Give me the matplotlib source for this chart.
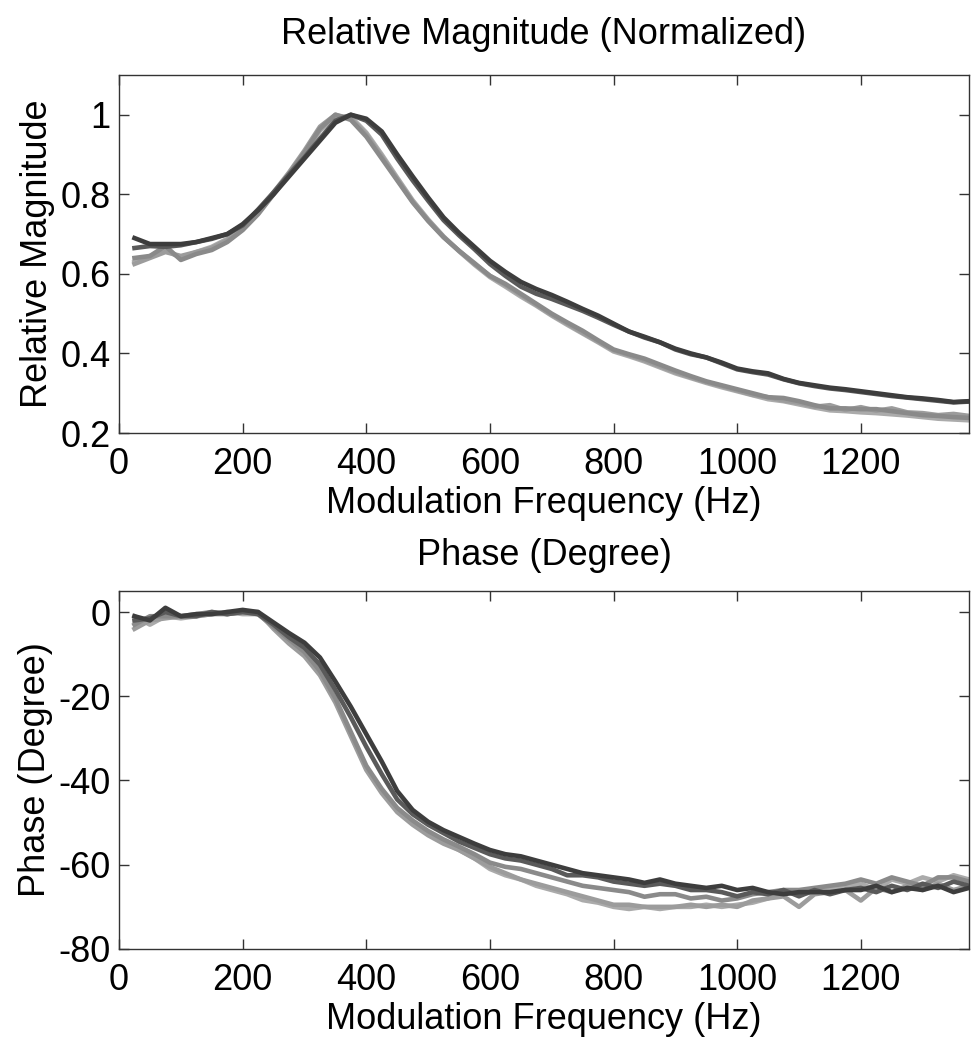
import numpy as np
import matplotlib
matplotlib.use("Agg")
import matplotlib.pyplot as plt

plt.rcParams['font.family'] = ['Liberation Sans', 'DejaVu Sans']
plt.rcParams['axes.unicode_minus'] = False

# modulation frequency grid (Hz)
freq = np.arange(25, 1376, 25)

# relative magnitude, one list per measurement
mag_a = [0.69, 0.675, 0.675, 0.675, 0.68, 0.69, 0.70, 0.725, 0.76, 0.80, 0.845, 0.89, 0.935, 0.98, 1.0,
         0.99, 0.958, 0.90, 0.845, 0.792, 0.742, 0.703, 0.668, 0.633, 0.605, 0.58, 0.562, 0.547, 0.53, 0.512,
         0.495, 0.475, 0.455, 0.442, 0.428, 0.412, 0.40, 0.39, 0.377, 0.362, 0.355, 0.35, 0.336, 0.326,
         0.32, 0.314, 0.31, 0.305, 0.30, 0.295, 0.29, 0.287, 0.283, 0.278, 0.28]
mag_b = [0.665, 0.67, 0.668, 0.672, 0.68, 0.688, 0.70, 0.722, 0.762, 0.805, 0.85, 0.893, 0.94, 0.985, 1.0,
         0.985, 0.95, 0.89, 0.835, 0.784, 0.735, 0.697, 0.662, 0.625, 0.595, 0.568, 0.55, 0.537, 0.522, 0.507,
         0.49, 0.472, 0.455, 0.44, 0.428, 0.41, 0.398, 0.39, 0.375, 0.36, 0.353, 0.347, 0.335, 0.325,
         0.318, 0.312, 0.308, 0.303, 0.298, 0.293, 0.289, 0.285, 0.281, 0.277, 0.279]
mag_c = [0.64, 0.645, 0.67, 0.635, 0.65, 0.66, 0.68, 0.71, 0.75, 0.80, 0.85, 0.905, 0.965, 1.0, 0.987,
         0.945, 0.89, 0.835, 0.78, 0.733, 0.692, 0.658, 0.627, 0.595, 0.575, 0.55, 0.525, 0.50, 0.478, 0.457,
         0.433, 0.41, 0.398, 0.387, 0.372, 0.357, 0.343, 0.33, 0.32, 0.31, 0.30, 0.29, 0.288, 0.28, 0.27,
         0.262, 0.262, 0.26, 0.26, 0.255, 0.25, 0.245, 0.243, 0.24, 0.238]
mag_d = [0.625, 0.64, 0.655, 0.645, 0.655, 0.665, 0.685, 0.715, 0.755, 0.805, 0.855, 0.91, 0.97, 1.0, 0.99,
         0.95, 0.895, 0.838, 0.782, 0.735, 0.693, 0.658, 0.625, 0.595, 0.572, 0.547, 0.522, 0.497, 0.475,
         0.452, 0.43, 0.408, 0.396, 0.383, 0.368, 0.353, 0.34, 0.328, 0.318, 0.307, 0.296, 0.29, 0.282,
         0.276, 0.266, 0.27, 0.258, 0.265, 0.256, 0.262, 0.252, 0.25, 0.245, 0.248, 0.243]
mag_e = [0.63, 0.645, 0.66, 0.64, 0.655, 0.668, 0.688, 0.712, 0.752, 0.802, 0.852, 0.905, 0.96, 0.995, 0.995,
         0.955, 0.90, 0.842, 0.785, 0.737, 0.694, 0.657, 0.623, 0.592, 0.568, 0.543, 0.52, 0.495, 0.472,
         0.45, 0.428, 0.405, 0.393, 0.38, 0.365, 0.35, 0.338, 0.326, 0.315, 0.305, 0.295, 0.285, 0.28,
         0.272, 0.264, 0.257, 0.255, 0.252, 0.25, 0.247, 0.244, 0.24, 0.236, 0.234, 0.232]

# phase in degrees
ph_a = [-1, -2, 1, -1, -0.5, -0.5, 0, 0.5, 0, -2.5, -5, -7.3, -10.8, -16.5, -22.5, -29, -35.5, -42.5, -47,
        -49.8, -51.8, -53.4, -55, -56.5, -57.5, -58, -59, -60, -61, -62, -62.5, -63, -63.5, -64.3, -63.5,
        -64.5, -65, -65.5, -65, -66, -65.5, -66.5, -67, -66.5, -66.5, -66.5, -66, -66, -65, -66.5, -65.5,
        -66, -65, -66.5, -65.5]
ph_b = [-2, -1.5, 0, -1, -1, 0, -0.5, 0, -0.5, -3, -6, -8.5, -12.5, -18.5, -25, -32, -38.5, -44.5, -48,
        -50.5, -52.5, -54.5, -56, -57.5, -58.5, -59, -60, -61, -62.5, -62.5, -63, -64, -64.5, -65, -64.5,
        -65, -66, -66, -66.5, -67.5, -66.5, -67, -66, -67.5, -66, -67, -66, -65.5, -66.5, -65, -66,
        -64.5, -65.5, -64, -65]
ph_c = [-3, -1, -1, -1, -0.5, 0, -0.5, 0, -0.5, -3.5, -6.5, -9.5, -14, -20.5, -28.5, -36.5, -42, -46.5,
        -49.5, -52, -54, -55.7, -57.5, -59.5, -60.5, -61, -62, -63, -64, -65, -65.5, -66, -66.5, -67.6,
        -67, -67, -68, -67.6, -68.5, -68, -67, -66.5, -66, -66, -65.5, -65, -64.5, -63.5, -64.5, -63, -64,
        -65, -63, -63, -64]
ph_d = [-4, -2, -1.5, -1, -1, -0.5, -0.5, 0, 0, -4, -7.5, -10.5, -15, -21.5, -29.5, -37.5, -43, -47.5,
        -50.5, -53, -55, -56.5, -58.5, -60.5, -62, -63.5, -64.5, -65.5, -66.5, -67.5, -68.5, -69.5,
        -69.5, -70, -70, -70, -69.5, -70, -69.5, -70, -68.5, -68, -67.5, -70, -67, -66.5, -66, -68.5,
        -65.5, -66.5, -65, -66, -64.5, -66, -65]
ph_e = [-1, -3, -1, -1.5, -1, -0.5, 0, -0.5, -0.5, -3.5, -7, -10, -14.5, -21, -29, -37, -42.5, -47,
        -50, -52.5, -54.5, -56.5, -58.5, -61, -62.5, -63.5, -65, -66, -67, -68.4, -69, -70, -70.5, -70,
        -70.5, -70, -70, -69.5, -70, -69.5, -69, -68, -66.5, -67, -66.5, -65.5, -65, -64.5, -66, -63.5,
        -64.5, -63, -64, -62.5, -63.5]

colors = ['#3d3d3d', '#5a5a5a', '#8a8a8a', '#9c9c9c', '#ababab']

fig = plt.figure(figsize=(9.79, 10.5), dpi=100)
ax1 = fig.add_axes([0.1216, 0.5876, 0.8682, 0.341])
ax2 = fig.add_axes([0.1216, 0.0962, 0.8682, 0.341])

for y, c in zip([mag_e, mag_d, mag_c, mag_b, mag_a], colors[::-1]):
    ax1.plot(freq, y, color=c, lw=3.3)
for y, c in zip([ph_e, ph_d, ph_c, ph_b, ph_a], colors[::-1]):
    ax2.plot(freq, y, color=c, lw=3.3)

fs = 26

ax1.set_xlim(0, 1375)
ax1.set_ylim(0.2, 1.1)
ax1.set_yticks([0.2, 0.4, 0.6, 0.8, 1])
ax1.set_yticklabels(['0.2', '0.4', '0.6', '0.8', '1'])
ax1.set_title('Relative Magnitude (Normalized)', fontsize=fs, pad=22)
ax1.set_ylabel('Relative Magnitude', fontsize=fs, labelpad=4)

ax2.set_xlim(0, 1375)
ax2.set_ylim(-80, 5)
ax2.set_yticks([-80, -60, -40, -20, 0])
ax2.set_title('Phase (Degree)', fontsize=fs, pad=19)
ax2.set_ylabel('Phase (Degree)', fontsize=fs, labelpad=4)

for ax in (ax1, ax2):
    ax.set_xticks([0, 200, 400, 600, 800, 1000, 1200])
    ax.set_xlabel('Modulation Frequency (Hz)', fontsize=fs, labelpad=3)
    ax.tick_params(direction='in', length=7, width=1, top=True, right=True,
                   labelsize=fs, color='#333333')
    ax.tick_params(axis='x', pad=10)
    ax.tick_params(axis='y', pad=6)
    for s in ax.spines.values():
        s.set_linewidth(1)
        s.set_color('#333333')

fig.savefig('out.png', dpi=100)
